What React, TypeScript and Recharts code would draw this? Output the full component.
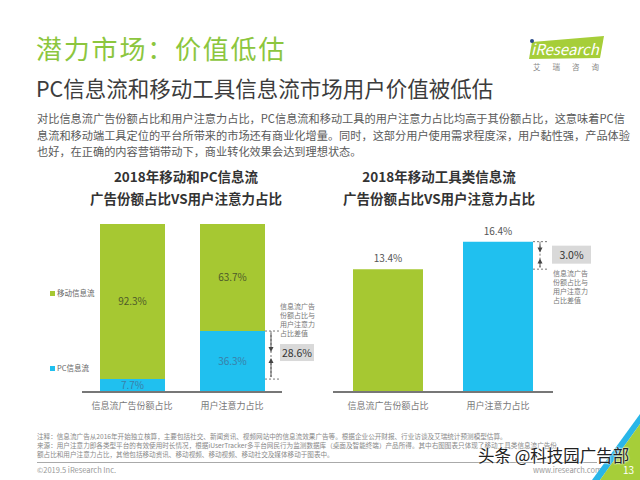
import React from "react";
import { Bar, BarChart, Cell, LabelList, XAxis, YAxis } from "recharts";

const FONT = '"Noto Sans CJK SC", "Noto Sans", sans-serif';
const GREEN = "#a6c832";
const BLUE = "#20c0ef";

// data
const categories = ["信息流广告份额占比", "用户注意力占比"];
const pcShare = [7.7, 36.3];
const mobileShare = [92.3, 63.7];
const toolShare = [13.4, 16.4];
const gapNote = ["信息流广告", "份额占比与", "用户注意力", "占比差值"];
const seriesNames = ["移动信息流", "PC信息流"];

const leftRows = categories.map((c, i) => ({ name: c, pc: pcShare[i], mobile: mobileShare[i] }));
const rightRows = categories.map((c, i) => ({ name: c, value: toolShare[i] }));

const pct = (v: any) => `${Number(v).toFixed(1)}%`;

function boxOf(props: any) {
  const vb = props.viewBox ?? {};
  return {
    x: Number(props.x ?? vb.x),
    y: Number(props.y ?? vb.y),
    width: Number(props.width ?? vb.width),
    height: Number(props.height ?? vb.height),
  };
}

function Arrows({ vx, top, low }: { vx: number; top: number; low: number }) {
  const mid = (top + low) / 2;
  return (
    <g>
      <line x1={vx} x2={vx} y1={top} y2={low} stroke="#777" strokeDasharray="2 2" />
      <line x1={vx} x2={vx} y1={top + 2} y2={mid - 5} stroke="#555" />
      <polygon points={`${vx - 2.5},${mid - 8} ${vx + 2.5},${mid - 8} ${vx},${mid - 3}`} fill="#444" />
      <line x1={vx} x2={vx} y1={mid + 5} y2={low - 2} stroke="#555" />
      <polygon points={`${vx - 2.5},${mid + 8} ${vx + 2.5},${mid + 8} ${vx},${mid + 3}`} fill="#444" />
    </g>
  );
}

// gap marker next to the PC bar of the attention column
function LeftGap(props: any) {
  const idx = props.index ?? (Number(props.value) === pcShare[1] ? 1 : 0);
  if (idx !== 1) return null;
  const { x, y, width, height } = boxOf(props);
  const top = y;
  const low = y + height * (1 - pcShare[0] / pcShare[1]);
  const ex = x + width;
  const vx = ex + 6;
  const mid = (top + low) / 2;
  return (
    <g>
      <line x1={ex} x2={ex + 14} y1={top} y2={top} stroke="#777" strokeDasharray="2 2" />
      <line x1={ex} x2={ex + 14} y1={low} y2={low} stroke="#777" strokeDasharray="2 2" />
      <Arrows vx={vx} top={top} low={low} />
      <rect x={ex + 15} y={mid - 11} width={34} height={17} fill="#d9d9d9" />
      <text x={ex + 32} y={mid + 1.5} textAnchor="middle" fontSize={10.5} fill="#333" fontFamily={FONT}>
        {(pcShare[1] - pcShare[0]).toFixed(1)}%
      </text>
      {gapNote.map((t, i) => (
        <text key={t} x={ex + 15} y={top - 22 + i * 9} fontSize={7} fill="#777" fontFamily={FONT}>
          {t}
        </text>
      ))}
    </g>
  );
}

function RightGap(props: any) {
  const idx = props.index ?? (Number(props.value) === toolShare[1] ? 1 : 0);
  if (idx !== 1) return null;
  const { x, y, width, height } = boxOf(props);
  const top = y;
  const low = y + height * ((toolShare[1] - toolShare[0]) / toolShare[1]);
  const ex = x + width;
  const vx = ex + 7;
  return (
    <g>
      <line x1={ex} x2={ex + 14} y1={top} y2={top} stroke="#777" strokeDasharray="2 2" />
      <line x1={ex} x2={ex + 14} y1={low} y2={low} stroke="#777" strokeDasharray="2 2" />
      <Arrows vx={vx} top={top} low={low} />
      <rect x={ex + 19} y={top + 4} width={39} height={18} fill="#d9d9d9" />
      <text x={ex + 38.5} y={top + 17} textAnchor="middle" fontSize={10.5} fill="#333" fontFamily={FONT}>
        {(toolShare[1] - toolShare[0]).toFixed(1)}%
      </text>
      {gapNote.map((t, i) => (
        <text key={t} x={ex + 20} y={top + 34 + i * 9} fontSize={7} fill="#777" fontFamily={FONT}>
          {t}
        </text>
      ))}
    </g>
  );
}

const tickStyle = { fill: "#777", fontSize: 9, fontFamily: FONT };

function Abs({ x, y, style, children }: { x: number; y: number; style?: React.CSSProperties; children: React.ReactNode }) {
  return (
    <div style={{ position: "absolute", left: x, top: y, whiteSpace: "nowrap", fontFamily: FONT, ...style }}>
      {children}
    </div>
  );
}

export default function App() {
  return (
    <div style={{ position: "absolute", left: 0, top: 0, width: 640, height: 480, background: "#fff", overflow: "hidden", fontFamily: FONT }}>
      {/* header */}
      <Abs x={36} y={33} style={{ fontSize: 26, letterSpacing: 1.8, color: "#8cc63e", lineHeight: "30px" }}>潜力市场：价值低估</Abs>
      <Abs x={36} y={74} style={{ fontSize: 21.5, color: "#3c3c3c", lineHeight: "28px" }}>PC信息流和移动工具信息流市场用户价值被低估</Abs>
      <Abs x={37} y={110} style={{ fontSize: 11.2, color: "#5a5a5a", lineHeight: "16.5px" }}>
        对比信息流广告份额占比和用户注意力占比，PC信息流和移动工具的用户注意力占比均高于其份额占比，这意味着PC信
        <br />
        息流和移动端工具定位的平台所带来的市场还有商业化增量。同时，这部分用户使用需求程度深，用户黏性强，产品体验
        <br />
        也好，在正确的内容营销带动下，商业转化效果会达到理想状态。
      </Abs>

      {/* logo */}
      <svg width={640} height={80} style={{ position: "absolute", left: 0, top: 0 }}>
        <polygon points="532,42 604,36 600,58 529,59" fill="#a6ce39" />
        <text x={531} y={55} fontSize={15} fill="#fff" fontFamily={FONT} fontStyle="italic">iResearch</text>
        <circle cx={532} cy={41} r={2} fill="#2a4a8a" />
        <text x={533} y={70} fontSize={7.5} fill="#888" fontFamily={FONT} letterSpacing={12}>艾瑞咨询</text>
      </svg>

      {/* chart titles */}
      <Abs x={0} y={165} style={{ width: 372, textAlign: "center", fontSize: 13.5, fontWeight: 700, color: "#333", lineHeight: "22px" }}>
        2018年移动和PC信息流
        <br />
        广告份额占比VS用户注意力占比
      </Abs>
      <Abs x={258} y={165} style={{ width: 362, textAlign: "center", fontSize: 13.5, fontWeight: 700, color: "#333", lineHeight: "22px" }}>
        2018年移动工具类信息流
        <br />
        广告份额占比VS用户注意力占比
      </Abs>

      {/* legend for the stacked chart */}
      <Abs x={50} y={287} style={{ fontSize: 7.5, color: "#666", lineHeight: "12px" }}>
        <span style={{ display: "inline-block", width: 5, height: 5, background: GREEN, marginRight: 2 }} />
        {seriesNames[0]}
      </Abs>
      <Abs x={50} y={362} style={{ fontSize: 7.5, color: "#666", lineHeight: "12px" }}>
        <span style={{ display: "inline-block", width: 5, height: 5, background: BLUE, marginRight: 2 }} />
        {seriesNames[1]}
      </Abs>

      <div style={{ position: "absolute", left: 0, top: 0 }}>
        <BarChart width={340} height={430} data={leftRows} margin={{ top: 224, right: 58, bottom: 8, left: 82 }} barSize={65}>
          <XAxis dataKey="name" tick={tickStyle} tickLine={false} axisLine={{ stroke: "#777", strokeWidth: 2 }} height={30} tickMargin={5} interval={0} />
          <YAxis hide domain={[0, 100]} />
          <Bar dataKey="pc" stackId="a" fill={BLUE} isAnimationActive={false}>
            <LabelList dataKey="pc" position="center" formatter={pct} fill="#3a7fa8" fontSize={10} fontFamily={FONT} />
            <LabelList dataKey="pc" content={LeftGap} />
          </Bar>
          <Bar dataKey="mobile" stackId="a" fill={GREEN} isAnimationActive={false}>
            <LabelList dataKey="mobile" position="center" formatter={pct} fill="#4d5a2a" fontSize={10} fontFamily={FONT} />
          </Bar>
        </BarChart>
      </div>

      <div style={{ position: "absolute", left: 250, top: 0 }}>
        <BarChart width={390} height={430} data={rightRows} margin={{ top: 227, right: 87, bottom: 8, left: 83 }} barSize={70}>
          <XAxis dataKey="name" tick={tickStyle} tickLine={false} axisLine={{ stroke: "#777", strokeWidth: 2 }} height={30} tickMargin={5} interval={0} />
          <YAxis hide domain={[0, 18]} />
          <Bar dataKey="value" isAnimationActive={false}>
            {rightRows.map((r, i) => (
              <Cell key={r.name} fill={i === 0 ? GREEN : BLUE} />
            ))}
            <LabelList dataKey="value" position="top" offset={7} formatter={pct} fill="#555" fontSize={10} fontFamily={FONT} />
            <LabelList dataKey="value" content={RightGap} />
          </Bar>
        </BarChart>
      </div>

      {/* footnotes */}
      <Abs x={37} y={432} style={{ fontSize: 6.6, color: "#888", lineHeight: "9px" }}>
        注释：信息流广告从2016年开始独立核算，主要包括社交、新闻资讯、视频网站中的信息流效果广告等。根据企业公开财报、行业访谈及艾瑞统计预测模型估算。
        <br />
        来源：用户注意力即各类型平台的有效使用时长情况，根据iUserTracker多平台网民行为监测数据库（桌面及智能终端）产品所得。其中右图图表只体现了移动工具类信息流广告份
        <br />
        额占比和用户注意力占比，其他包括移动资讯、移动视频、移动视频、移动社交及媒体移动于图表中。
      </Abs>
      <div style={{ position: "absolute", left: 37, top: 462, width: 560, height: 1, background: "#aaa" }} />
      <Abs x={37} y={465} style={{ fontSize: 7.5, color: "#999", lineHeight: "10px" }}>©2019.5 iResearch Inc.</Abs>
      <Abs x={533} y={465} style={{ fontSize: 7.5, color: "#999", lineHeight: "10px" }}>www.iresearch.com.cn</Abs>

      <svg width={640} height={480} style={{ position: "absolute", left: 0, top: 0, pointerEvents: "none" }}>
        <polygon points="592,480 640,414 640,424 600,480" fill="#29b6e8" />
        <polygon points="600,480 640,424 640,480" fill="#a6ce39" />
        <text x={623} y={474} fontSize={10} fill="#fff" fontFamily={FONT}>13</text>
      </svg>

      <Abs x={478} y={444} style={{ fontSize: 16.5, color: "#222", lineHeight: "22px", textShadow: "0 0 2px #fff, 0 0 2px #fff" }}>
        头条 @科技园广告部
      </Abs>
    </div>
  );
}
